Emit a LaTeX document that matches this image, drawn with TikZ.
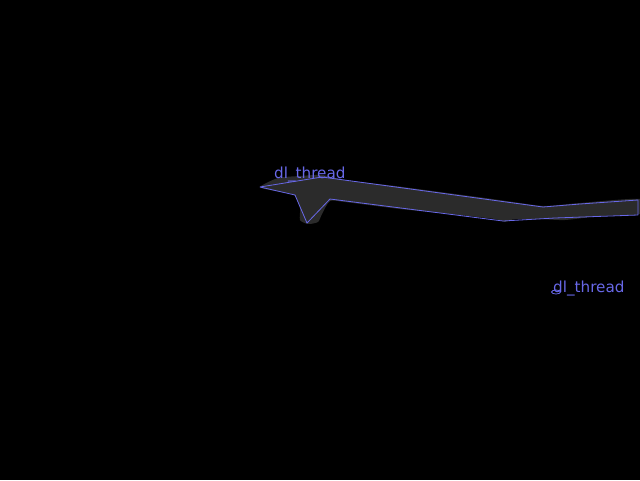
\documentclass[tikz,border=0pt]{standalone}
\usepackage{fontspec}
\setmainfont{DejaVu Sans}
\usepackage{xcolor}
\definecolor{threadblue}{RGB}{104,104,232}
\definecolor{threadgray}{RGB}{43,43,43}

\begin{document}
\begin{tikzpicture}[x=1pt,y=-1pt,
    outline/.style={draw=threadblue, line width=0.8pt, line join=round},
    body/.style={fill=threadgray, draw=none},
    tag/.style={text=threadblue, anchor=base west, inner sep=0pt, font=\fontsize{15.2}{15.2}\selectfont}]
    \fill[black] (0,0) rectangle (640,480);
    \useasboundingbox (0,0) rectangle (640,480);
    % gray thread body
    \path[body] plot[smooth cycle, tension=0.4] coordinates {
        (260,187) (278,178) (300,176) (322,175) (345,180) (395,186) (440,192)
        (485,198) (520,203) (545,206) (580,203) (640,199) (640,214) (600,216)
        (565,220) (540,219) (515,219) (505,222) (495,219) (450,214) (400,209)
        (345,202) (330,201) (322,214) (318,222) (308,224) (300,220) (300,208)
        (294,195) (275,191)};
    % blue outline
    \draw[outline] (260,187) -- (322,177) -- (440,193) -- (543,207)
        -- (580,204) -- (638,200) -- (638,215) -- (555,218) -- (503,221)
        -- (330,199) -- (307,223) -- (295,195) -- cycle;
    \draw[outline] (556,292) ellipse [x radius=4.5, y radius=2];
    \node[tag] at (274,178) (tagA) {dl\_thread};
    \node[tag] at (553,292) (tagB) {dl\_thread};
\end{tikzpicture}
\end{document}
